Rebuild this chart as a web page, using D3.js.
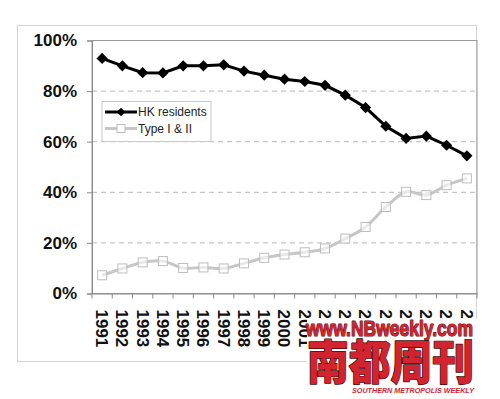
<!DOCTYPE html>
<html>
<meta charset="utf-8">
<title>HK residents vs Type I & II</title>
<style>
  body { margin: 0; background: #fff; }
  .axis text { font-family: "Liberation Sans", Arial, sans-serif; font-weight: bold; fill: #111; }
  .grid line { stroke: #b8b8b8; stroke-dasharray: 5,4; }
  .legend text { font-family: "Liberation Sans", Arial, sans-serif; font-size: 12px; fill: #222; }
</style>
<body>
<div id="chart"></div>
<script src="https://cdnjs.cloudflare.com/ajax/libs/d3/7.8.5/d3.min.js"></script>
<script>
var years = ["1991","1992","1993","1994","1995","1996","1997","1998","1999","2000",
             "2001","2002","2003","2004","2005","2006","2007","2008","2009"];
var hkResidents = [92.9, 90.0, 87.3, 87.2, 90.0, 90.0, 90.4, 87.9, 86.3, 84.7,
                   83.8, 82.3, 78.4, 73.5, 66.1, 61.3, 62.2, 58.6, 54.4];
var typeOneTwo = [7.2, 9.9, 12.3, 12.8, 10.1, 10.3, 9.9, 11.9, 14.1, 15.4,
                  16.3, 17.8, 21.7, 26.3, 34.2, 40.2, 38.9, 42.8, 45.5];
var yTicks = [0, 20, 40, 60, 80, 100];
var seriesNames = ["HK residents", "Type I & II"];

var width = 500, height = 399;
var plot = {left: 92, right: 477, top: 40.5, bottom: 293.5};

var svg = d3.select("#chart").append("svg")
    .attr("width", width)
    .attr("height", height);

// outer chart frame
svg.append("rect")
    .attr("x", 17.5).attr("y", 25.5)
    .attr("width", 459).attr("height", 336)
    .attr("fill", "#fff")
    .attr("stroke", "#d4d4d4");

var x = d3.scaleBand()
    .domain(years)
    .range([plot.left, plot.right]);

var y = d3.scaleLinear()
    .domain([0, 100])
    .range([plot.bottom, plot.top]);

// gridlines
svg.append("g")
    .attr("class", "grid")
  .selectAll("line")
    .data(yTicks.filter(function(d) { return d > 0 && d < 100; }))
  .enter().append("line")
    .attr("x1", plot.left).attr("x2", plot.right)
    .attr("y1", function(d) { return y(d); })
    .attr("y2", function(d) { return y(d); });

// plot area border
svg.append("rect")
    .attr("x", plot.left).attr("y", plot.top)
    .attr("width", plot.right - plot.left).attr("height", plot.bottom - plot.top)
    .attr("fill", "none")
    .attr("stroke", "#9a9a9a");

// y axis
var yAxis = svg.append("g")
    .attr("class", "axis")
    .attr("transform", "translate(" + plot.left + ",0)")
    .call(d3.axisLeft(y).tickValues(yTicks).tickSize(5).tickPadding(10)
      .tickFormat(function(d) { return d + "%"; }));
yAxis.selectAll("text").style("font-size", "17px");
yAxis.selectAll("line, path").attr("stroke", "#8a8a8a");

// x axis: ticks between categories, labels rotated
var xAxis = svg.append("g")
    .attr("class", "axis")
    .attr("transform", "translate(0," + plot.bottom + ")")
    .call(d3.axisBottom(x).tickSize(0).tickPadding(0));
xAxis.select(".domain").attr("stroke", "#8a8a8a");
xAxis.selectAll(".tick text")
    .style("font-size", "17px")
    .attr("text-anchor", "start")
    .attr("transform", "translate(0,16) rotate(90)")
    .attr("x", 0).attr("y", 0)
    .attr("dy", "0.36em");
xAxis.selectAll("line.between")
    .data(years.concat([null]))
  .enter().append("line")
    .attr("class", "between")
    .attr("stroke", "#8a8a8a")
    .attr("x1", function(d) { return d ? x(d) : plot.right; })
    .attr("x2", function(d) { return d ? x(d) : plot.right; })
    .attr("y1", 0).attr("y2", 5);

var cx = function(d, i) { return x(years[i]) + x.bandwidth() / 2; };

// Type I & II (smoothed, light grey, open squares)
svg.append("path")
    .datum(typeOneTwo)
    .attr("fill", "none")
    .attr("stroke", "#c6c6c6")
    .attr("stroke-width", 3)
    .attr("d", d3.line().x(cx).y(function(d) { return y(d); })
      .curve(d3.curveCardinal.tension(0)));

svg.append("g").selectAll("rect")
    .data(typeOneTwo)
  .enter().append("rect")
    .attr("x", function(d, i) { return cx(d, i) - 4.5; })
    .attr("y", function(d) { return y(d) - 4.5; })
    .attr("width", 9).attr("height", 9)
    .attr("fill", "#fff").attr("fill-opacity", 0.6)
    .attr("stroke", "#bdbdbd").attr("stroke-width", 1);

// HK residents (black, diamonds)
svg.append("path")
    .datum(hkResidents)
    .attr("fill", "none")
    .attr("stroke", "#000")
    .attr("stroke-width", 3)
    .attr("d", d3.line().x(cx).y(function(d) { return y(d); }));

var diamond = d3.symbol().type(d3.symbolDiamond2).size(80);
svg.append("g").selectAll("path")
    .data(hkResidents)
  .enter().append("path")
    .attr("transform", function(d, i) { return "translate(" + cx(d, i) + "," + y(d) + ")"; })
    .attr("d", diamond)
    .attr("fill", "#000");

// legend
var legend = svg.append("g").attr("class", "legend");
legend.append("rect")
    .attr("x", 102).attr("y", 101.5)
    .attr("width", 109).attr("height", 40)
    .attr("fill", "#fff").attr("stroke", "#c8c8c8");

var rows = legend.selectAll("g.item")
    .data(seriesNames)
  .enter().append("g")
    .attr("class", "item")
    .attr("transform", function(d, i) { return "translate(0," + (112 + i * 16.5) + ")"; });

rows.append("line")
    .attr("x1", 105).attr("x2", 137)
    .attr("stroke", function(d, i) { return i === 0 ? "#000" : "#c6c6c6"; })
    .attr("stroke-width", 3);
rows.filter(function(d, i) { return i === 0; }).append("path")
    .attr("transform", "translate(121,0)")
    .attr("d", d3.symbol().type(d3.symbolDiamond2).size(45))
    .attr("fill", "#000");
rows.filter(function(d, i) { return i === 1; }).append("rect")
    .attr("x", 117).attr("y", -4).attr("width", 8).attr("height", 8)
    .attr("fill", "#fff").attr("stroke", "#bdbdbd");
rows.append("text")
    .attr("x", 138).attr("dy", "0.36em")
    .text(function(d) { return d; });

// watermark (sits on a white patch over the lower right corner)
var wm = svg.append("g").attr("class", "watermark");
wm.append("rect")
    .attr("x", 307).attr("y", 318.5)
    .attr("width", 193).attr("height", 81)
    .attr("fill", "#fff");

function wmText(str, opts) {
  var t = wm.append("text")
      .attr("x", opts.x).attr("y", opts.y)
      .attr("textLength", opts.len).attr("lengthAdjust", "spacingAndGlyphs")
      .style("font-family", opts.family)
      .style("font-weight", opts.weight)
      .style("font-style", opts.italic ? "italic" : "normal")
      .style("font-size", opts.size + "px")
      .attr("fill", "#d2232f")
      .text(str);
  if (opts.stroke) {
    t.attr("stroke", opts.stroke).attr("stroke-width", opts.strokeWidth)
      .attr("paint-order", "stroke").attr("stroke-linejoin", "round");
  }
  return t;
}

wmText("www.NBweekly.com", {x: 306, y: 335.5, len: 167, size: 22, weight: "bold", italic: false,
  family: "\"Liberation Sans Narrow\", \"Liberation Sans\", Arial, sans-serif",
  stroke: "#5a1010", strokeWidth: 1.2});
wmText("南都周刊", {x: 307, y: 379, len: 167, size: 47, weight: "900",
  family: "\"Noto Sans CJK SC\", sans-serif",
  stroke: "#3a0a0a", strokeWidth: 1.4});
wmText("SOUTHERN METROPOLIS WEEKLY", {x: 352, y: 393, len: 122, size: 8, weight: "bold", italic: true,
  family: "\"Liberation Sans\", Arial, sans-serif"});
</script>
</body>
</html>
